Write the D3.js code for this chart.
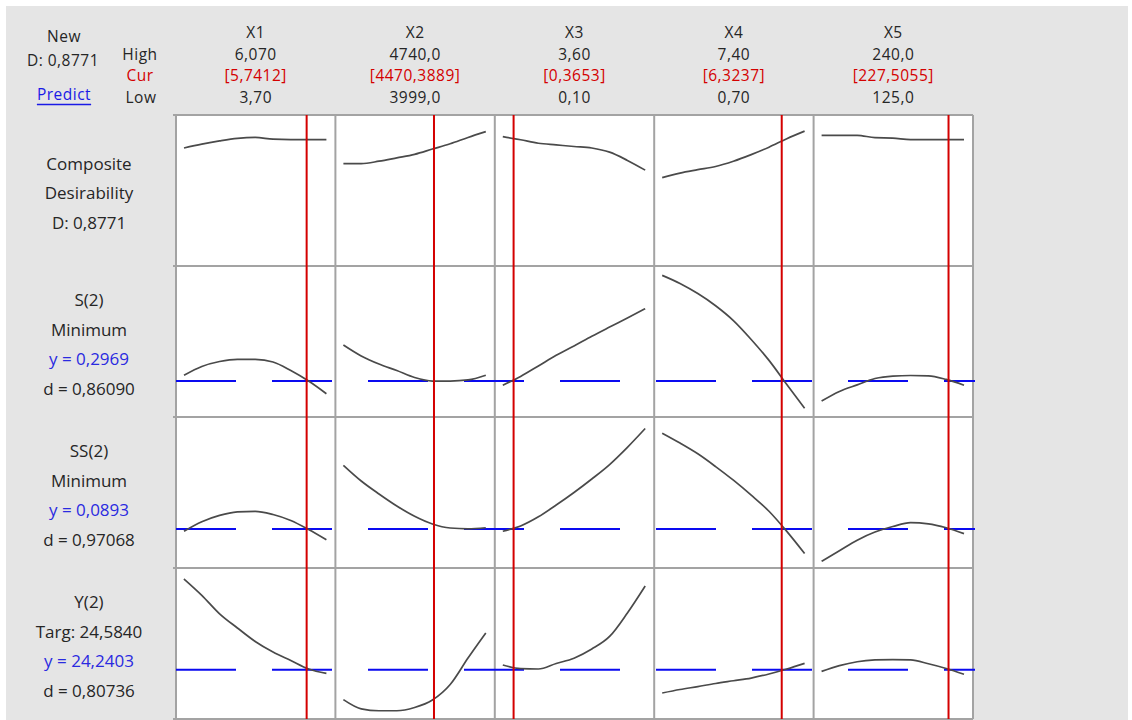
<!DOCTYPE html>
<html>
<head>
<meta charset="utf-8">
<script src="https://cdn.jsdelivr.net/npm/d3@7"></script>
<style>
  html, body { margin: 0; padding: 0; background: #ffffff; }
  svg { display: block; font-family: "Open Sans", "Noto Sans", sans-serif; }
</style>
</head>
<body>
<svg id="chart" width="1132" height="720"></svg>
<script>
// ---- Factor settings ----
const factors = ["X1", "X2", "X3", "X4", "X5"];
const highs = [6.070, 4740.0, 3.60, 7.40, 240.0];
const lows = [3.70, 3999.0, 0.10, 0.70, 125.0];
const current = [5.7412, 4470.3889, 0.3653, 6.3237, 227.5055];
const highDecimals = [3, 1, 2, 2, 1];
const lowDecimals = [2, 1, 2, 2, 1];

// ---- Responses ----
const responses = ["S(2)", "SS(2)", "Y(2)"];
const goals = ["Minimum", "Minimum", "Targ: 24,5840"];
const predicted = [0.2969, 0.0893, 24.2403];
const desirability = [0.86090, 0.97068, 0.80736];
const compositeD = 0.8771;

// Plotted range of each row (composite desirability first)
const rowLow = [0, 0.22, 0.02, 23.0];
const rowHigh = [1, 0.59, 0.322, 27.05];

// Profiles: response at 9 evenly spaced settings from Low to High, one list per factor
const compositeProfile = [
  [0.815, 0.843, 0.867, 0.886, 0.893, 0.880, 0.877, 0.877, 0.877],
  [0.699, 0.699, 0.717, 0.742, 0.768, 0.807, 0.846, 0.893, 0.936],
  [0.899, 0.876, 0.850, 0.838, 0.826, 0.815, 0.784, 0.723, 0.651],
  [0.595, 0.629, 0.654, 0.678, 0.717, 0.766, 0.821, 0.884, 0.940],
  [0.909, 0.909, 0.909, 0.891, 0.888, 0.877, 0.877, 0.877, 0.877]
];
const sProfile = [
  [0.3125, 0.3366, 0.3502, 0.3562, 0.3558, 0.3488, 0.3255, 0.2966, 0.2618],
  [0.3954, 0.3654, 0.3432, 0.3255, 0.3062, 0.2966, 0.2966, 0.2996, 0.3125],
  [0.2851, 0.3092, 0.3380, 0.3673, 0.3928, 0.4194, 0.4446, 0.4694, 0.4949],
  [0.5863, 0.5641, 0.5364, 0.5031, 0.4624, 0.4106, 0.3532, 0.2870, 0.2219],
  [0.2418, 0.2681, 0.2862, 0.3036, 0.3103, 0.3118, 0.3110, 0.3010, 0.2851]
];
const ssProfile = [
  [0.0843, 0.1055, 0.1197, 0.1275, 0.1290, 0.1218, 0.1085, 0.0883, 0.0653],
  [0.2317, 0.1967, 0.1677, 0.1408, 0.1178, 0.1006, 0.0916, 0.0898, 0.0922],
  [0.0843, 0.0961, 0.1166, 0.1429, 0.1710, 0.2012, 0.2335, 0.2720, 0.3141],
  [0.3036, 0.2815, 0.2575, 0.2290, 0.1985, 0.1650, 0.1290, 0.0840, 0.0345],
  [0.0170, 0.0408, 0.0644, 0.0825, 0.0949, 0.1034, 0.1009, 0.0922, 0.0789]
];
const yProfile = [
  [26.961, 26.471, 25.916, 25.491, 25.086, 24.770, 24.515, 24.260, 24.130],
  [23.340, 23.065, 23.008, 23.008, 23.105, 23.328, 23.794, 24.588, 25.341],
  [24.381, 24.270, 24.260, 24.426, 24.584, 24.859, 25.236, 25.940, 26.750],
  [23.539, 23.644, 23.733, 23.826, 23.907, 23.988, 24.110, 24.260, 24.430],
  [24.187, 24.361, 24.478, 24.531, 24.543, 24.531, 24.418, 24.276, 24.102]
];

const profiles = [compositeProfile, sProfile, ssProfile, yProfile];

// ---- Layout ----
const W = 1132, H = 720;
const gridLeft = 176, gridTop = 115;
const colW = 159.4, rowH = 151;
const nCols = factors.length, nRows = profiles.length;
const gridRight = gridLeft + colW * nCols;
const gridBottom = gridTop + rowH * nRows;
const padX0 = 8, padX1 = 9, padY = 8;

const ink = "#262626";
const red = "#d40000";
const blue = "#0a0af0";
const labelBlue = "#2a2ae0";
const fontSize = 17;
const headSize = 15.5;
const headSpacing = "0.5px";

const fmt = (v, d) => v.toFixed(d).replace(".", ",");

const svg = d3.select("#chart");

// Window background
svg.append("rect").attr("width", W).attr("height", H).attr("fill", "#ffffff");
svg.append("rect").attr("x", 6).attr("y", 6).attr("width", 1122).attr("height", H - 6)
  .attr("fill", "#e5e5e5");

// Scales
const xScales = factors.map((f, i) => {
  const L = gridLeft + i * colW;
  return d3.scaleLinear().domain([lows[i], highs[i]]).range([L + padX0, L + colW - padX1]);
});
const yScales = profiles.map((p, r) => {
  const T = gridTop + r * rowH;
  return d3.scaleLinear().domain([rowLow[r], rowHigh[r]]).range([T + rowH - padY, T + padY]);
});

// Panels
svg.append("rect")
  .attr("x", gridLeft).attr("y", gridTop)
  .attr("width", gridRight - gridLeft).attr("height", gridBottom - gridTop)
  .attr("fill", "#ffffff");

const grid = svg.append("g").attr("stroke", "#a3a3a3").attr("stroke-width", 2);
d3.range(nCols + 1).forEach(i => {
  const x = gridLeft + i * colW;
  grid.append("line").attr("x1", x).attr("x2", x).attr("y1", gridTop).attr("y2", gridBottom);
});
d3.range(nRows + 1).forEach(r => {
  const y = gridTop + r * rowH;
  grid.append("line").attr("x1", gridLeft - 3).attr("x2", gridRight).attr("y1", y).attr("y2", y);
});

// Predicted response lines (dashed blue)
responses.forEach((name, k) => {
  const r = k + 1;
  const y = yScales[r](predicted[k]);
  svg.append("line")
    .attr("x1", gridLeft).attr("x2", gridRight + 2)
    .attr("y1", y).attr("y2", y)
    .attr("stroke", blue).attr("stroke-width", 2)
    .attr("stroke-dasharray", "60 36");
});

// Profile curves
const curveG = svg.append("g").attr("fill", "none").attr("stroke", "#4a4a4a").attr("stroke-width", 1.7);
profiles.forEach((rowProfiles, r) => {
  rowProfiles.forEach((vals, i) => {
    const n = vals.length;
    const pts = vals.map((v, j) => [lows[i] + (highs[i] - lows[i]) * j / (n - 1), v]);
    const line = d3.line()
      .x(d => xScales[i](d[0]))
      .y(d => yScales[r](d[1]))
      .curve(d3.curveMonotoneX);
    curveG.append("path").attr("d", line(pts));
  });
});

// Current settings (red)
current.forEach((c, i) => {
  const x = xScales[i](c);
  svg.append("line")
    .attr("x1", x).attr("x2", x).attr("y1", gridTop).attr("y2", gridBottom)
    .attr("stroke", red).attr("stroke-width", 2);
});

// ---- Text ----
function label(x, y, str, color, size, spacing) {
  const t = svg.append("text")
    .attr("x", x).attr("y", y).attr("dy", "0.35em")
    .attr("text-anchor", "middle")
    .attr("font-size", size || fontSize)
    .attr("fill", color || ink)
    .text(str);
  if (spacing) t.attr("letter-spacing", spacing);
  return t;
}

// Header: factor names and High / Cur / Low settings
const yName = 33, yHigh = 54.3, yCur = 75.6, yLow = 97.5;
factors.forEach((f, i) => {
  const cx = gridLeft + (i + 0.5) * colW;
  label(cx, yName, f, ink, headSize, headSpacing);
  label(cx, yHigh, fmt(highs[i], highDecimals[i]), ink, headSize, headSpacing);
  label(cx, yCur, "[" + fmt(current[i], 4) + "]", red, headSize, headSpacing);
  label(cx, yLow, fmt(lows[i], lowDecimals[i]), ink, headSize, headSpacing);
});
label(140, yHigh, "High", ink, headSize, headSpacing);
label(140, yCur, "Cur", red, headSize, headSpacing);
label(141, yLow, "Low", ink, headSize, headSpacing);

label(64, 37, "New", ink, headSize, headSpacing);
label(63, 61, "D: " + fmt(compositeD, 4), ink, headSize, headSpacing);
const pred = label(64, 95, "Predict", "#1a1ae6", headSize, headSpacing);
const pw = pred.node().getComputedTextLength();
svg.append("line")
  .attr("x1", 64 - pw / 2).attr("x2", 64 + pw / 2)
  .attr("y1", 104.5).attr("y2", 104.5)
  .attr("stroke", "#1a1ae6").attr("stroke-width", 1.3);

// Row labels
const lineGap = 29.6;
const labelX = 89;
function rowLabel(r, lines) {
  const cy = gridTop + (r + 0.5) * rowH + 3;
  lines.forEach((ln, j) => {
    label(labelX, cy + (j - (lines.length - 1) / 2) * lineGap, ln.text, ln.color);
  });
}
rowLabel(0, [
  { text: "Composite" },
  { text: "Desirability" },
  { text: "D: " + fmt(compositeD, 4) }
]);
responses.forEach((name, k) => {
  rowLabel(k + 1, [
    { text: name },
    { text: goals[k] },
    { text: "y = " + fmt(predicted[k], 4), color: labelBlue },
    { text: "d = " + fmt(desirability[k], 5) }
  ]);
});
</script>
</body>
</html>
